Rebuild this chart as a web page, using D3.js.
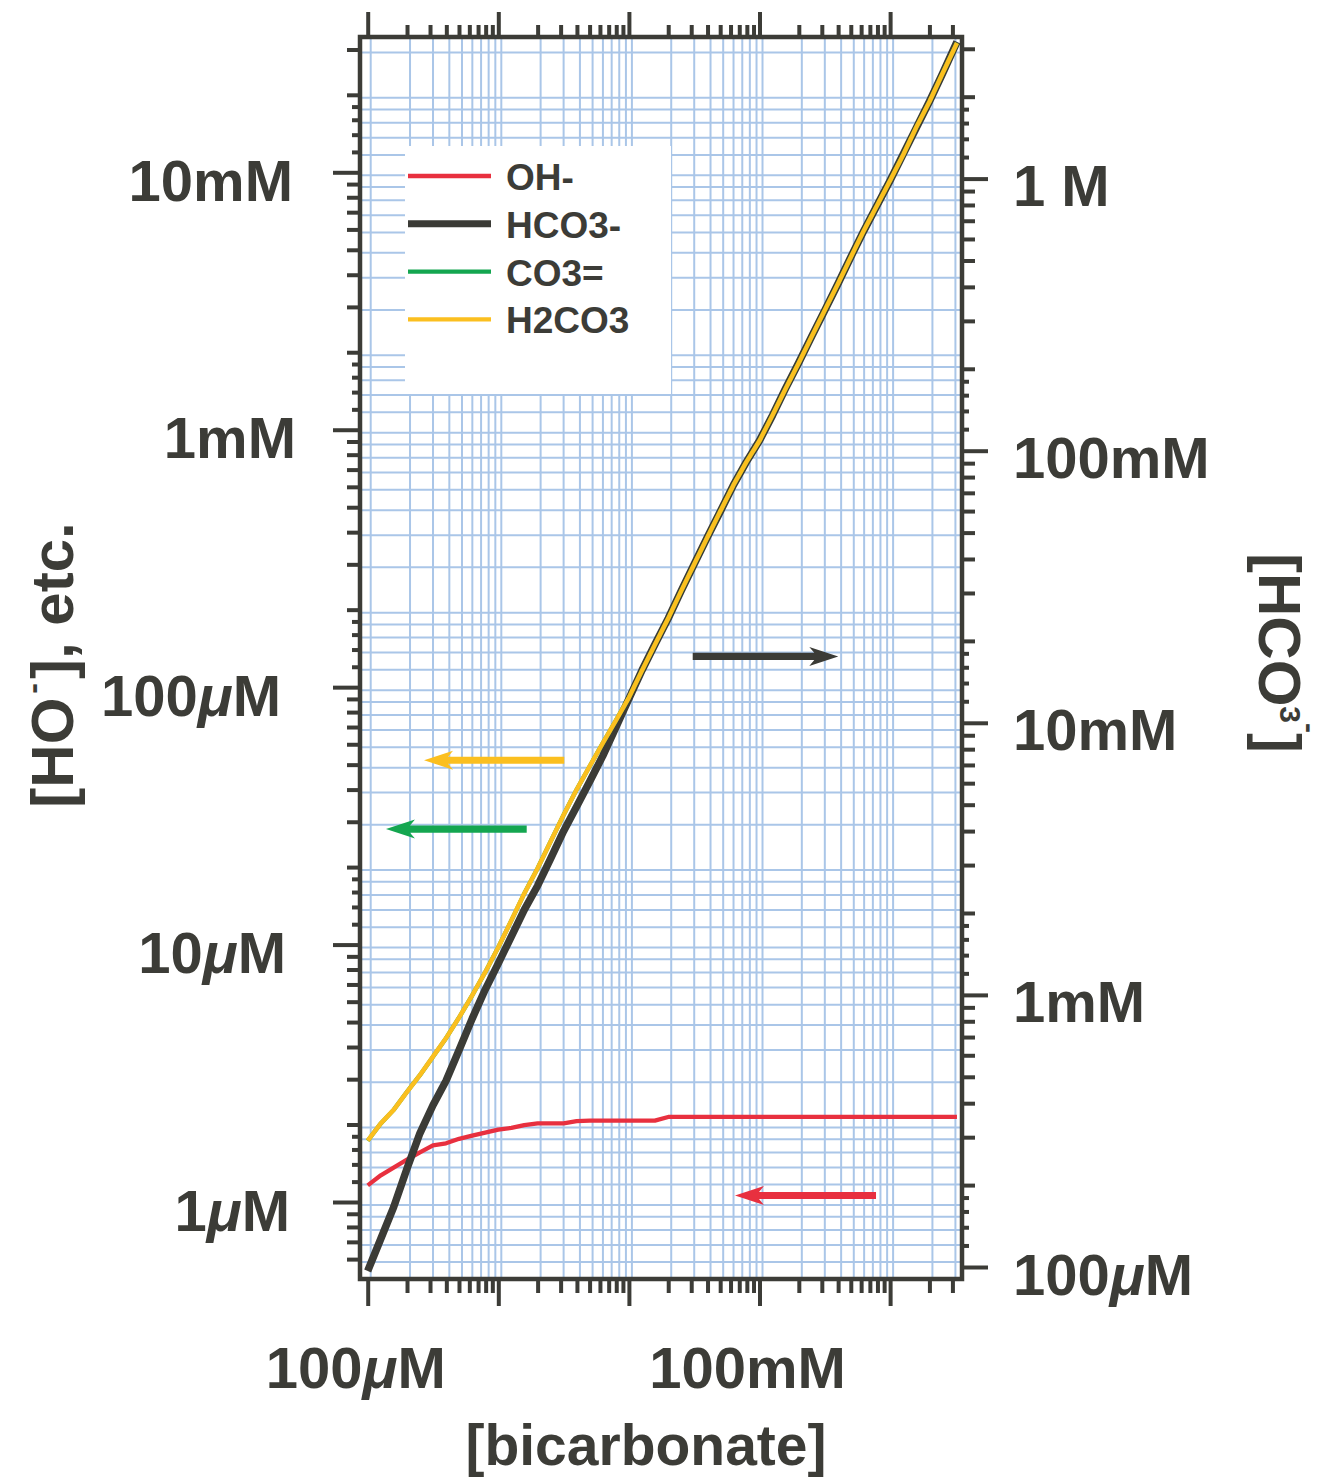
<!DOCTYPE html>
<html>
<head>
<meta charset="utf-8">
<script src="https://cdn.jsdelivr.net/npm/d3@7"></script>
<style>
  body { margin: 0; background: #ffffff; }
  svg { display: block; }
  text { font-family: "Liberation Sans", Arial, Helvetica, sans-serif; font-weight: bold; fill: #3c3c37; }
</style>
</head>
<body>
<svg id="chart" width="1329" height="1479"></svg>
<script>
// ---- data (all concentrations in mol/L) ----
const bicarbonate = [
  1.00e-4, 1.26e-4, 1.58e-4, 2.00e-4, 2.51e-4, 3.16e-4, 3.98e-4, 5.01e-4, 6.31e-4, 7.94e-4,
  1.00e-3, 1.26e-3, 1.58e-3, 2.00e-3, 2.51e-3, 3.16e-3, 3.98e-3, 5.01e-3, 6.31e-3, 7.94e-3,
  1.00e-2, 1.26e-2, 1.58e-2, 2.00e-2, 2.51e-2, 3.16e-2, 3.98e-2, 5.01e-2, 6.31e-2, 7.94e-2,
  0.100, 0.126, 0.158, 0.200, 0.251, 0.316, 0.398, 0.501, 0.631, 0.794,
  1.00, 1.26, 1.58, 2.00, 2.51, 3.25
];
const ohMinus = [
  1.16e-6, 1.27e-6, 1.36e-6, 1.46e-6, 1.56e-6, 1.66e-6, 1.69e-6, 1.76e-6, 1.81e-6, 1.86e-6,
  1.91e-6, 1.94e-6, 1.99e-6, 2.02e-6, 2.02e-6, 2.02e-6, 2.06e-6, 2.07e-6, 2.07e-6, 2.07e-6,
  2.07e-6, 2.07e-6, 2.07e-6, 2.14e-6, 2.14e-6, 2.14e-6, 2.14e-6, 2.14e-6, 2.14e-6, 2.14e-6,
  2.14e-6, 2.14e-6, 2.14e-6, 2.14e-6, 2.14e-6, 2.14e-6, 2.14e-6, 2.14e-6, 2.14e-6, 2.14e-6,
  2.14e-6, 2.14e-6, 2.14e-6, 2.14e-6, 2.14e-6, 2.14e-6
];
const hco3Minus = [
  9.67e-5, 1.27e-4, 1.66e-4, 2.30e-4, 3.10e-4, 3.93e-4, 4.84e-4, 6.27e-4, 8.18e-4, 1.046e-3,
  1.305e-3, 1.642e-3, 2.053e-3, 2.519e-3, 3.163e-3, 3.995e-3, 4.925e-3, 6.08e-3, 7.56e-3, 9.62e-3,
  1.226e-2, 1.56e-2, 1.94e-2, 2.42e-2, 3.05e-2, 3.83e-2, 4.80e-2, 5.98e-2, 7.47e-2, 9.10e-2,
  0.109, 0.135, 0.169, 0.211, 0.263, 0.328, 0.410, 0.516, 0.645, 0.796,
  0.984, 1.23, 1.53, 1.92, 2.42, 3.18
];
const co3 = [
  1.73e-6, 2.02e-6, 2.28e-6, 2.68e-6, 3.11e-6, 3.67e-6, 4.33e-6, 5.21e-6, 6.35e-6, 7.81e-6,
  9.76e-6, 1.242e-5, 1.578e-5, 1.980e-5, 2.51e-5, 3.185e-5, 4.00e-5, 4.93e-5, 6.06e-5, 7.41e-5,
  9.11e-5, 1.16e-4, 1.46e-4, 1.85e-4, 2.36e-4, 3.00e-4, 3.81e-4, 4.82e-4, 6.09e-4, 7.50e-4,
  9.06e-4, 1.14e-3, 1.44e-3, 1.82e-3, 2.30e-3, 2.91e-3, 3.68e-3, 4.69e-3, 5.95e-3, 7.43e-3,
  9.29e-3, 1.17e-2, 1.49e-2, 1.88e-2, 2.41e-2, 3.18e-2
];
const h2co3 = [
  1.73e-6, 2.02e-6, 2.28e-6, 2.68e-6, 3.11e-6, 3.67e-6, 4.33e-6, 5.21e-6, 6.35e-6, 7.81e-6,
  9.76e-6, 1.242e-5, 1.578e-5, 1.980e-5, 2.51e-5, 3.185e-5, 4.00e-5, 4.93e-5, 6.06e-5, 7.41e-5,
  9.11e-5, 1.16e-4, 1.46e-4, 1.85e-4, 2.36e-4, 3.00e-4, 3.81e-4, 4.82e-4, 6.09e-4, 7.50e-4,
  9.06e-4, 1.14e-3, 1.44e-3, 1.82e-3, 2.30e-3, 2.91e-3, 3.68e-3, 4.69e-3, 5.95e-3, 7.43e-3,
  9.29e-3, 1.17e-2, 1.49e-2, 1.88e-2, 2.41e-2, 3.18e-2
];
const seriesNames = ["OH-", "HCO3-", "CO3=", "H2CO3"];

const leftTickValues = [1e-2, 1e-3, 1e-4, 1e-5, 1e-6];
const leftTickLabels = ["10mM", "1mM", "100μM", "10μM", "1μM"];
const rightTickValues = [1, 1e-1, 1e-2, 1e-3, 1e-4];
const rightTickLabels = ["1 M", "100mM", "10mM", "1mM", "100μM"];
const bottomTickValues = [1e-4, 1e-1];
const bottomTickLabels = ["100μM", "100mM"];

// arrows showing which axis each trace belongs to (data units)
const arrowFrom  = [0.78,    0.0308,  1.65e-3, 3.2e-3];
const arrowTo    = [0.0649,  0.401,   1.38e-4, 2.7e-4];
const arrowLevel = [1.06e-6, 0.01753, 2.81e-5, 5.2e-5];
const arrowAxis  = ["left", "right", "left", "left"];

// ---- layout ----
const ink = "#3c3c37";
const gridColor = "#aac6e8";
const colors = { "OH-": "#e8303f", "HCO3-": "#3b3b36", "CO3=": "#14a650", "H2CO3": "#fbbf1f" };
const widths = { "OH-": 4.3, "HCO3-": 7.5, "CO3=": 4.3, "H2CO3": 4.5 };
const P = { left: 360, right: 962, top: 37, bottom: 1279 };
const leftLabelAnchor = [293, 296, 281, 286, 290];

const svg = d3.select("#chart");

const x = d3.scaleLog().domain([Math.pow(10, -4.059), Math.pow(10, 0.5505)]).range([P.left, P.right]);
const yLeft = d3.scaleLog().domain([Math.pow(10, -6.2991), Math.pow(10, -1.4744)]).range([P.bottom, P.top]);
const yRight = d3.scaleLog().domain([Math.pow(10, -4.0441), Math.pow(10, 0.5204)]).range([P.bottom, P.top]);

function logTicks(scale, mults) {
  const [a, b] = scale.domain();
  const out = [];
  for (let e = Math.floor(Math.log10(a)); e <= Math.ceil(Math.log10(b)); e++) {
    for (const m of mults) {
      const v = m * Math.pow(10, e);
      if (v >= a * 1.05 && v <= b / 1.05) out.push(v);
    }
  }
  return out;
}
const MAJ = [1], MED = [2, 3, 4, 5, 6, 7, 8, 9], SHORT = [1.2, 1.4, 1.6, 1.8];

const xMaj = logTicks(x, MAJ), xMed = logTicks(x, MED);
const lMaj = logTicks(yLeft, MAJ), lMed = logTicks(yLeft, MED), lShort = logTicks(yLeft, SHORT);
const rMaj = logTicks(yRight, MAJ), rMed = logTicks(yRight, MED), rShort = logTicks(yRight, SHORT);

// ---- clip ----
svg.append("defs").append("clipPath").attr("id", "plotClip")
  .append("rect").attr("x", P.left).attr("y", P.top)
  .attr("width", P.right - P.left).attr("height", P.bottom - P.top);

// ---- grid ----
const gridOuter = svg.append("g").attr("clip-path", "url(#plotClip)");
const grid = gridOuter.append("g").attr("transform", "translate(3,3)")
  .attr("stroke", gridColor).attr("stroke-width", 2);
grid.selectAll("line.v").data(xMaj.concat(xMed)).join("line").attr("class", "v")
  .attr("x1", d => x(d)).attr("x2", d => x(d)).attr("y1", P.top - 5).attr("y2", P.bottom);
grid.selectAll("line.h").data(lMaj.concat(lMed, lShort)).join("line").attr("class", "h")
  .attr("y1", d => yLeft(d)).attr("y2", d => yLeft(d)).attr("x1", P.left - 5).attr("x2", P.right);

// ---- legend box (sits over the grid) ----
svg.append("rect").attr("x", 405).attr("y", 146).attr("width", 266).attr("height", 248).attr("fill", "#ffffff");

// ---- traces ----
const traces = [
  { name: "OH-", values: ohMinus, y: yLeft },
  { name: "HCO3-", values: hco3Minus, y: yRight },
  { name: "CO3=", values: co3, y: yLeft },
  { name: "H2CO3", values: h2co3, y: yLeft }
];
const plotG = svg.append("g").attr("clip-path", "url(#plotClip)");
traces.forEach(t => {
  const line = d3.line().x((d, i) => x(bicarbonate[i])).y(d => t.y(d));
  plotG.append("path").datum(t.values)
    .attr("d", line).attr("fill", "none")
    .attr("stroke", colors[t.name]).attr("stroke-width", widths[t.name])
    .attr("stroke-linejoin", "round");
});

// ---- arrows ----
const arrowColors = [colors["OH-"], colors["HCO3-"], colors["CO3="], colors["H2CO3"]];
function arrowPath(x0, x1, y) {
  const dir = Math.sign(x1 - x0), w = 3.6, headLen = 29, neck = 24, half = 9.5;
  const base = x1 - dir * headLen, nk = x1 - dir * neck;
  return `M${x0},${y - w} L${nk},${y - w} L${base},${y - half} L${x1},${y} L${base},${y + half} L${nk},${y + w} L${x0},${y + w} Z`;
}
arrowFrom.forEach((f, i) => {
  const ys = arrowAxis[i] === "left" ? yLeft : yRight;
  svg.append("path").attr("d", arrowPath(x(f), x(arrowTo[i]), ys(arrowLevel[i])))
    .attr("fill", arrowColors[i]);
});

// ---- frame ----
svg.append("rect").attr("x", P.left).attr("y", P.top)
  .attr("width", P.right - P.left).attr("height", P.bottom - P.top)
  .attr("fill", "none").attr("stroke", ink).attr("stroke-width", 4.5);

// ---- tick marks ----
function ticks(axisFn, scale, values, size, transform) {
  svg.append("g").attr("transform", transform)
    .call(axisFn(scale).tickValues(values).tickSize(size).tickFormat(""))
    .call(g => {
      g.select(".domain").remove();
      g.selectAll(".tick line").attr("stroke", ink).attr("stroke-width", 4);
    });
}
ticks(d3.axisLeft, yLeft, lMaj, 27, `translate(${P.left},0)`);
ticks(d3.axisLeft, yLeft, lMed, 13, `translate(${P.left},0)`);
ticks(d3.axisLeft, yLeft, lShort, 8, `translate(${P.left},0)`);
ticks(d3.axisRight, yRight, rMaj, 26, `translate(${P.right},0)`);
ticks(d3.axisRight, yRight, rMed, 13, `translate(${P.right},0)`);
ticks(d3.axisRight, yRight, rShort, 7, `translate(${P.right},0)`);
ticks(d3.axisTop, x, xMaj, 25, `translate(0,${P.top})`);
ticks(d3.axisTop, x, xMed, 12, `translate(0,${P.top})`);
ticks(d3.axisBottom, x, xMaj, 27, `translate(0,${P.bottom})`);
ticks(d3.axisBottom, x, xMed, 14, `translate(0,${P.bottom})`);

// ---- tick labels ----
function richLabel(sel, str) {
  str.split(/(μ)/).filter(s => s.length).forEach(part => {
    const ts = sel.append("tspan").text(part);
    if (part === "μ") ts.attr("font-style", "italic");
  });
}
leftTickValues.forEach((v, i) => {
  const t = svg.append("text").attr("x", leftLabelAnchor[i]).attr("y", yLeft(v) + 28.5)
    .attr("text-anchor", "end").attr("font-size", 58);
  richLabel(t, leftTickLabels[i]);
});
rightTickValues.forEach((v, i) => {
  const t = svg.append("text").attr("x", 1013).attr("y", yRight(v) + 27.5)
    .attr("text-anchor", "start").attr("font-size", 58);
  richLabel(t, rightTickLabels[i]);
});
bottomTickValues.forEach((v, i) => {
  const t = svg.append("text").attr("x", x(v) - 12).attr("y", 1388)
    .attr("text-anchor", "middle").attr("font-size", 58);
  richLabel(t, bottomTickLabels[i]);
});

// ---- axis titles ----
svg.append("text").attr("x", 646).attr("y", 1465).attr("text-anchor", "middle")
  .attr("font-size", 57).text("[bicarbonate]");

const lt = svg.append("text").attr("transform", "translate(73,665) rotate(-90)")
  .attr("text-anchor", "middle").attr("font-size", 60);
lt.append("tspan").text("[HO");
lt.append("tspan").attr("font-size", 32).attr("dx", 4).attr("dy", -30).text("-");
lt.append("tspan").attr("dx", 4).attr("dy", 30).text("], etc.");

const rt = svg.append("text").attr("transform", "translate(1259,653) rotate(90)")
  .attr("text-anchor", "middle").attr("font-size", 60);
rt.append("tspan").text("[HCO");
rt.append("tspan").attr("font-size", 30).attr("dy", -21).text("3");
rt.append("tspan").attr("font-size", 30).attr("dy", -20).text("-");
rt.append("tspan").attr("dy", 41).text("]");

// ---- legend entries ----
seriesNames.forEach((name, i) => {
  const yy = 176 + 47.8 * i;
  svg.append("line").attr("x1", 408).attr("x2", 491).attr("y1", yy).attr("y2", yy)
    .attr("stroke", colors[name]).attr("stroke-width", name === "HCO3-" ? 7 : 4.3);
  svg.append("text").attr("x", 506).attr("y", yy + 14).attr("font-size", 37).text(name);
});
</script>
</body>
</html>
